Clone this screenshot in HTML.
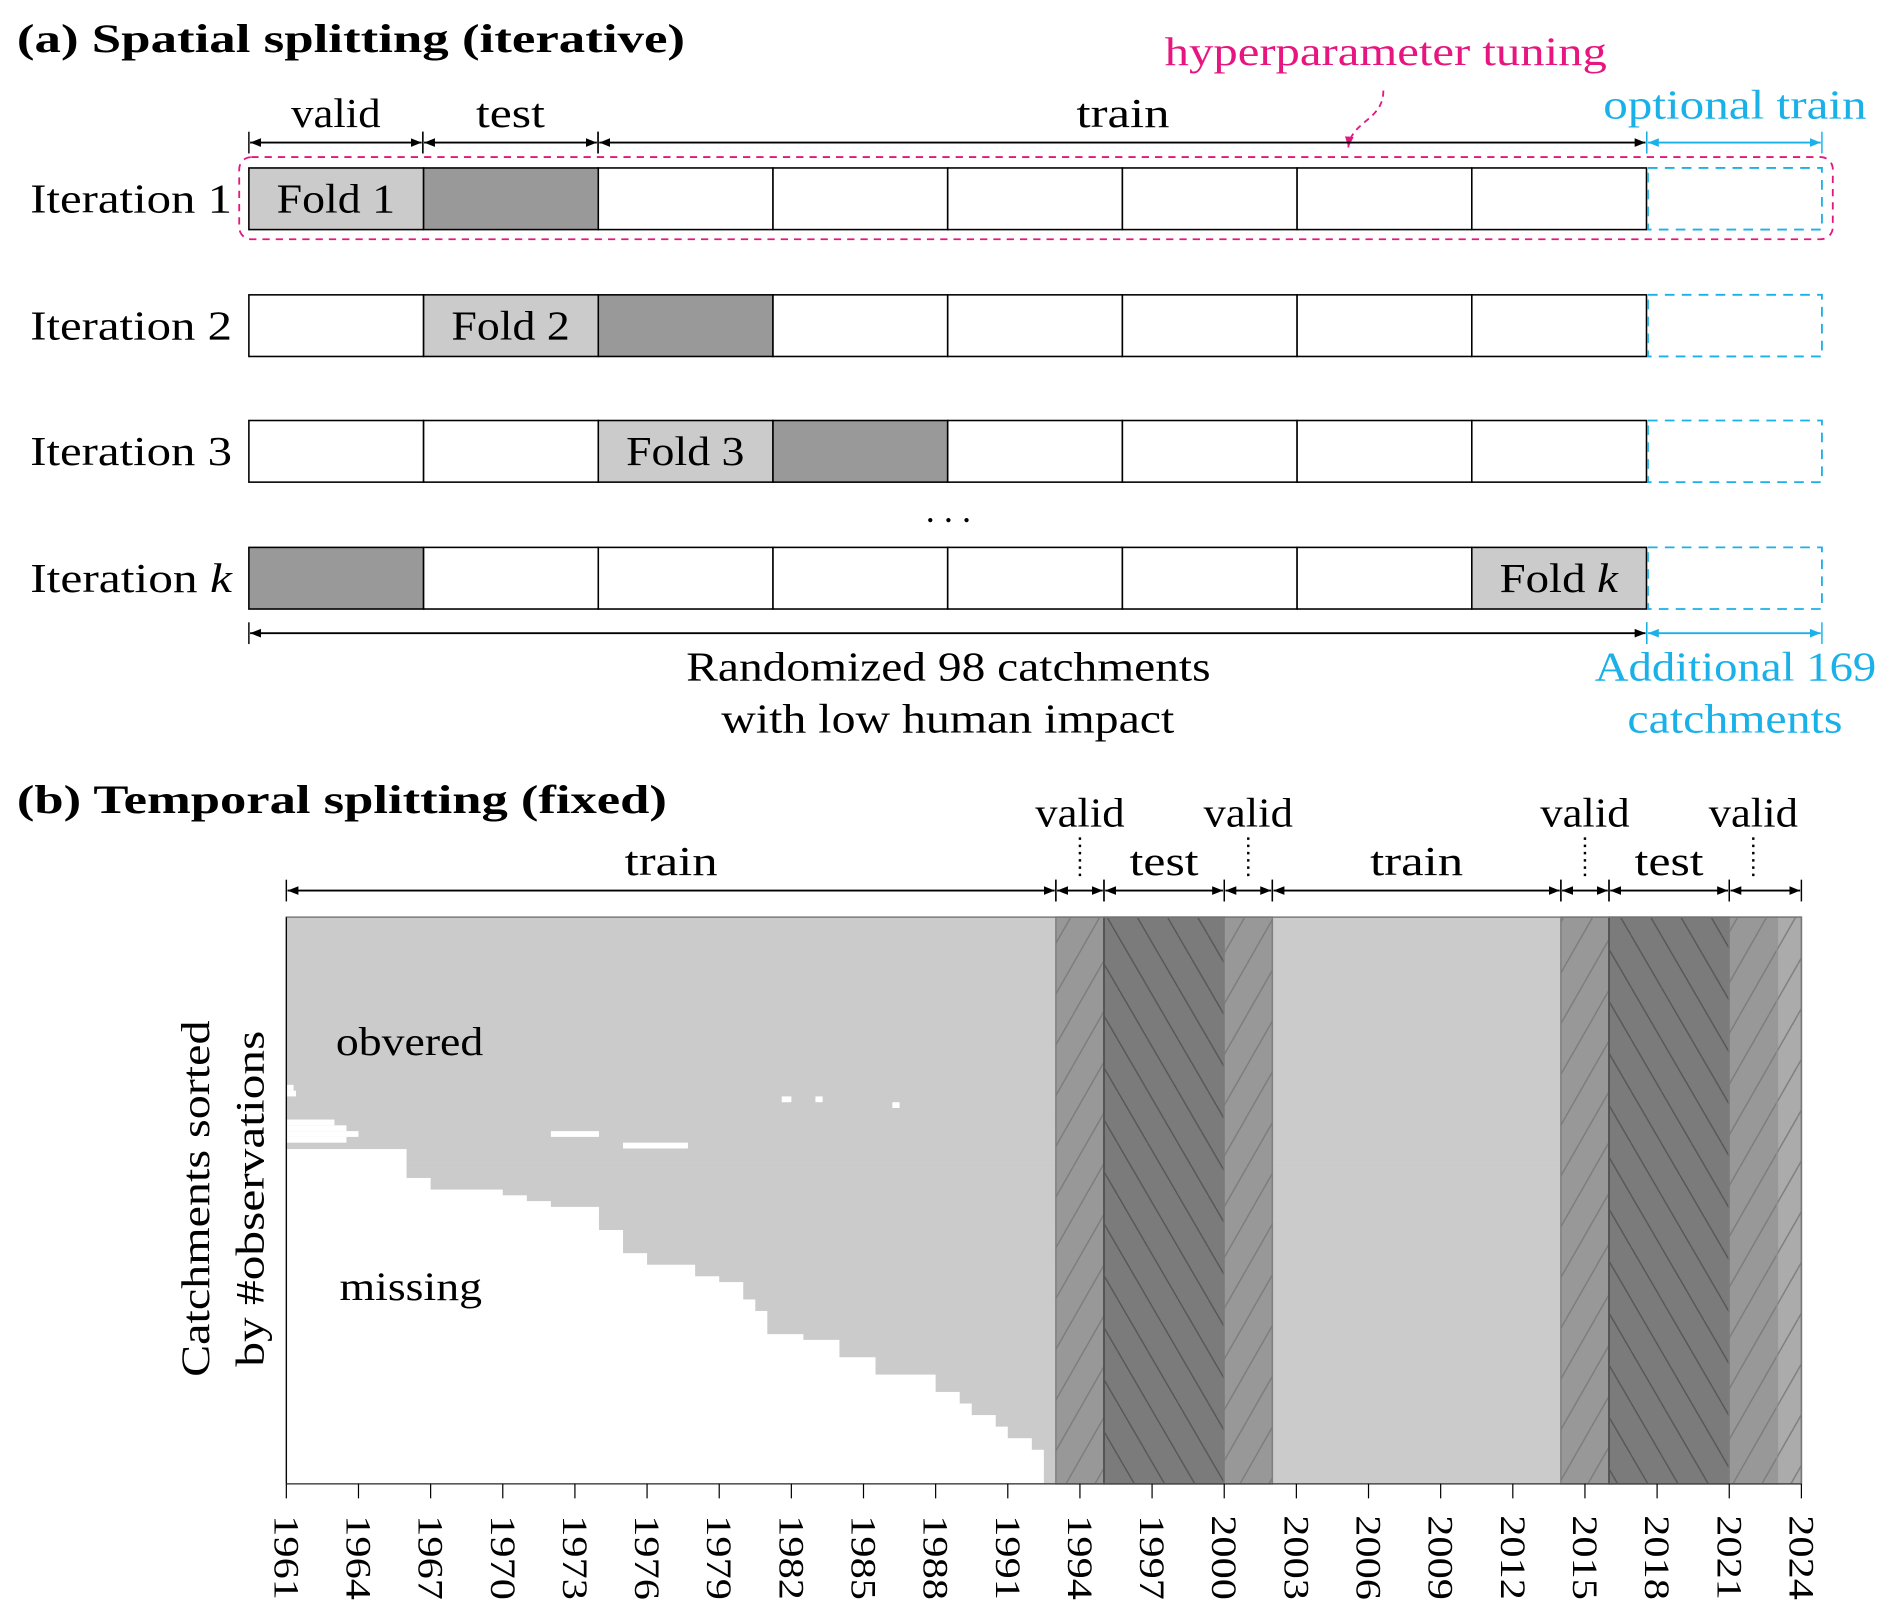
<!DOCTYPE html>
<html><head><meta charset="utf-8"><style>
html,body{margin:0;padding:0;background:#fff;}
svg{display:block;font-family:"Liberation Serif",serif;}
</style></head><body>
<svg id="fig" width="1892" height="1618" viewBox="0 0 1566 1339" preserveAspectRatio="none" xmlns="http://www.w3.org/2000/svg">
<defs>
<marker id="ah" viewBox="0 0 10 10" refX="10" refY="5" markerWidth="9" markerHeight="9" markerUnits="userSpaceOnUse" orient="auto-start-reverse"><path d="M0,1 L10,5 L0,9 Z" fill="#000"/></marker>
<marker id="ahc" viewBox="0 0 10 10" refX="10" refY="5" markerWidth="9" markerHeight="9" markerUnits="userSpaceOnUse" orient="auto-start-reverse"><path d="M0,1 L10,5 L0,9 Z" fill="#1ab0e8"/></marker>
<marker id="ahp" viewBox="0 0 10 10" refX="10" refY="5" markerWidth="9" markerHeight="9" markerUnits="userSpaceOnUse" orient="auto"><path d="M0,1 L10,5 L0,9 Z" fill="#e6157f"/></marker>
<pattern id="hvalid" patternUnits="userSpaceOnUse" width="24" height="42"><path d="M-24,42 L0,0 M0,42 L24,0 M24,42 L48,0" stroke="#7a7a7a" stroke-width="1.1"/></pattern>
<pattern id="htest" patternUnits="userSpaceOnUse" width="25" height="43"><path d="M-25,0 L0,43 M0,0 L25,43 M25,0 L50,43" stroke="#555" stroke-width="1.1"/></pattern>
</defs>

<text x="14" y="43" font-size="33" font-weight="bold" textLength="553" lengthAdjust="spacingAndGlyphs">(a) Spatial splitting (iterative)</text>
<text x="964" y="54" font-size="33" fill="#e6157f" textLength="366" lengthAdjust="spacingAndGlyphs">hyperparameter tuning</text>
<path d="M1145,75 C1145,100 1118,100 1116,122" fill="none" stroke="#e6157f" stroke-width="1.5" stroke-dasharray="5,4" marker-end="url(#ahp)"/>
<g id="spatial"></g>
<text x="785" y="432" font-size="30" text-anchor="middle">. . .</text>
<text x="568" y="563" font-size="34" textLength="434" lengthAdjust="spacingAndGlyphs">Randomized 98 catchments</text>
<text x="597" y="606" font-size="34" textLength="375" lengthAdjust="spacingAndGlyphs">with low human impact</text>
<text x="1320" y="563" font-size="34" fill="#1ab0e8" textLength="233" lengthAdjust="spacingAndGlyphs">Additional 169</text>
<text x="1347" y="606" font-size="34" fill="#1ab0e8" textLength="178" lengthAdjust="spacingAndGlyphs">catchments</text>

<text x="14" y="673" font-size="33" font-weight="bold" textLength="538" lengthAdjust="spacingAndGlyphs">(b) Temporal splitting (fixed)</text>
<g id="temporal"></g>
<text transform="translate(173,992) rotate(-90)" font-size="33" text-anchor="middle" textLength="295" lengthAdjust="spacingAndGlyphs">Catchments sorted</text>
<text transform="translate(218,992) rotate(-90)" font-size="33" text-anchor="middle" textLength="278" lengthAdjust="spacingAndGlyphs">by #observations</text>
<text x="278" y="873" font-size="33" textLength="122" lengthAdjust="spacingAndGlyphs">obvered</text>
<text x="281" y="1076" font-size="33" textLength="118" lengthAdjust="spacingAndGlyphs">missing</text>
</svg>
<script>
const NS="http://www.w3.org/2000/svg";
function mk(parent,tag,attrs){const e=document.createElementNS(NS,tag);for(const k in attrs)e.setAttribute(k,attrs[k]);parent.appendChild(e);return e;}

const iterationLabels=["Iteration 1","Iteration 2","Iteration 3","Iteration k"];
const validFold=[0,1,2,7];
const testFold=[1,2,3,0];
const nFolds=8;
const sp=document.getElementById('spatial');
const X0=206,CW=144.6,RH=51;
const rowTops=[139,244,348,453];
for(let r=0;r<iterationLabels.length;r++){
  const y=rowTops[r];
  const lab=mk(sp,'text',{x:25,y:y+37,'font-size':34,textLength:167,lengthAdjust:"spacingAndGlyphs"});
  
  
  if(r===3){lab.textContent="Iteration ";const t=mk(lab,'tspan',{'font-style':'italic'});t.textContent="k";}else lab.textContent=iterationLabels[r];
  for(let c=0;c<nFolds;c++){
    let fill="#fff";if(c===validFold[r])fill="#cbcbcb";if(c===testFold[r])fill="#999";
    const rc=mk(sp,'rect',{x:X0+c*CW,y:y,width:CW,height:RH,fill:fill,stroke:"#000","stroke-width":1.3});
    
    
    if(c===validFold[r]){
      const ft=mk(sp,'text',{x:X0+c*CW+23,y:y+37,'font-size':34,textLength:98,lengthAdjust:"spacingAndGlyphs"});
      
      
      if(r===3){ft.textContent="Fold ";const t=mk(ft,'tspan',{'font-style':'italic'});t.textContent="k";}else ft.textContent="Fold "+(r+1);
    }
  }
  const ext=mk(sp,'rect',{x:1364,y:y,width:144,height:RH,fill:"none",stroke:"#1ab0e8","stroke-width":1.5,"stroke-dasharray":"8,6"});
  
  
}
const hp=mk(sp,'rect',{x:198,y:130,width:1319,height:68,rx:10,fill:"none",stroke:"#e6157f","stroke-width":1.5,"stroke-dasharray":"6,5"});


function arrow(g,x1,x2,y,col,mark,name){
  const l=mk(g,'line',{x1:x1+1,y1:y,x2:x2-1,y2:y,stroke:col,"stroke-width":1.5,"marker-start":"url(#"+mark+")","marker-end":"url(#"+mark+")"});
  
  
  mk(g,'line',{x1:x1,y1:y-9,x2:x1,y2:y+9,stroke:col,"stroke-width":1.2});
  mk(g,'line',{x1:x2,y1:y-9,x2:x2,y2:y+9,stroke:col,"stroke-width":1.2});
}
arrow(sp,206,350,118,"#000","ah","valid-arrow");
arrow(sp,350,495,118,"#000","ah","test-arrow");
arrow(sp,495,1363,118,"#000","ah","train-arrow");
arrow(sp,1363,1508,118,"#1ab0e8","ahc","optional-train-arrow");
arrow(sp,206,1363,524,"#000","ah","catchments-arrow");
arrow(sp,1363,1508,524,"#1ab0e8","ahc","additional-arrow");
[["valid",241,105,"#000",74],["test",394,105,"#000",57],["train",891,105,"#000",77],["optional train",1327,98,"#1ab0e8",218]].forEach(a=>{
  const t=mk(sp,'text',{x:a[1],y:a[2],'font-size':34,fill:a[3],textLength:a[4],lengthAdjust:"spacingAndGlyphs"});
  t.textContent=a[0];
  
  
});

const yearStart=1961, yearEnd=2024;
const tickYears=[1961,1964,1967,1970,1973,1976,1979,1982,1985,1988,1991,1994,1997,2000,2003,2006,2009,2012,2015,2018,2021,2024];
const segNames=["train","valid","test","valid","train","valid","test","valid","extra"];
const segStart=[1961,1993,1995,2000,2002,2014,2016,2021,2023];
const segEnd=[1993,1995,2000,2002,2014,2016,2021,2023,2024];
const nRows=98;
const firstYear=[
1961,1961,1961,1961,1961,1961,1961,1961,1961,1961,
1961,1961,1961,1961,1961,1961,1961,1961,1961,1961,
1961,1961,1961,1961,1961,1961,1961,1961,1961,1961,
1961,1961,1961,1961,1961,1961,1961,1961,1961,1961,
1966,1966,1966,1966,1966,1967,1967,1970,1971,1972,
1974,1974,1974,1974,1975,1975,1975,1975,1976,1976,
1978,1978,1979,1980,1980,1980,1980.5,1980.5,1981,1981,
1981,1981,1982.5,1984,1984,1984,1985.5,1985.5,1985.5,1988,
1988,1988,1989,1989,1989.5,1989.5,1990.5,1990.5,1991,1991,
1992,1992,1992.5,1992.5,1992.5,1992.5,1992.5,1992.5];
const gapRow=[29,30,31,31,32,35,36,37,37,38,39];
const gapStart=[1961,1961,1981.6,1983,1986.2,1961,1961,1961,1972,1961,1975];
const gapEnd=[1961.3,1961.4,1982,1983.3,1986.5,1963,1963.5,1964,1974,1963.5,1977.7];

const tp=document.getElementById('temporal');
const PX0=237,PX1=1491,PY0=759,PY1=1228;
const xs=yr=>PX0+(yr-yearStart)/(yearEnd-yearStart)*(PX1-PX0);
const rowH=(PY1-PY0)/nRows;
const ys=i=>PY0+i*rowH;

const bg=mk(tp,'rect',{x:PX0,y:PY0,width:PX1-PX0,height:PY1-PY0,fill:"#fff"});


for(let i=0;i<nRows;i++){
  const r=mk(tp,'rect',{x:xs(firstYear[i]),y:ys(i),width:xs(yearEnd)-xs(firstYear[i]),height:rowH+0.5,fill:"#cbcbcb"});
  
  
}
for(let g=0;g<gapRow.length;g++){
  const r=mk(tp,'rect',{x:xs(gapStart[g]),y:ys(gapRow[g]),width:xs(gapEnd[g])-xs(gapStart[g]),height:rowH,fill:"#fff"});
  
  
}
const segFill={valid:"#989898",test:"#7b7b7b",extra:"#ababab"};
const segPat={valid:"hvalid",test:"htest",extra:"hvalid"};
const segStroke={valid:"#808080",test:"#4a4a4a",extra:"#999"};
for(let s=0;s<segNames.length;s++){
  const n=segNames[s];if(n==="train")continue;
  const x=xs(segStart[s]),w=xs(segEnd[s])-xs(segStart[s]);
  const r=mk(tp,'rect',{x:x,y:PY0,width:w,height:PY1-PY0,fill:segFill[n],stroke:segStroke[n],"stroke-width":1.3});
  
  
  mk(tp,'rect',{x:x,y:PY0,width:w,height:PY1-PY0,fill:"url(#"+segPat[n]+")"});
}
const fr=mk(tp,'rect',{x:PX0,y:PY0,width:PX1-PX0,height:PY1-PY0,fill:"none",stroke:"#777","stroke-width":1.2});


mk(tp,'line',{x1:PX0,y1:PY0,x2:PX0,y2:PY1,stroke:"#000","stroke-width":1});
mk(tp,'line',{x1:PX0,y1:PY1,x2:PX1,y2:PY1,stroke:"#444","stroke-width":1});
tickYears.forEach(yr=>{
  const x=xs(yr);
  const t=mk(tp,'line',{x1:x,y1:PY1,x2:x,y2:PY1+12,stroke:"#000","stroke-width":1});
  
  
  const lb=mk(tp,'text',{x:x,y:1254,'font-size':30,'dominant-baseline':'central',textLength:70,lengthAdjust:"spacingAndGlyphs",transform:"rotate(90,"+x+",1254)"});
  lb.textContent=yr;
  
  
});
for(let s=0;s<segNames.length;s++){
  const n=segNames[s];
  if(n==="extra")continue;
  const x1=xs(segStart[s]),x2=(s===7?xs(2024):xs(segEnd[s]));
  arrow(tp,x1,x2,737,"#000","ah",n+"-period-arrow");
  const mid=(x1+x2)/2;
  if(n==="valid"){
    const vx=(xs(segStart[s])+xs(segEnd[s]))/2;
    mk(tp,'line',{x1:vx,y1:693,x2:vx,y2:727,stroke:"#000","stroke-width":2,"stroke-dasharray":"2,4"});
    const t=mk(tp,'text',{x:vx,y:684,'font-size':34,'text-anchor':'middle',textLength:74,lengthAdjust:"spacingAndGlyphs"});t.textContent="valid";
    
    
  }else{
    const t=mk(tp,'text',{x:mid,y:724,'font-size':34,'text-anchor':'middle',textLength:(n==="train"?77:57),lengthAdjust:"spacingAndGlyphs"});t.textContent=n;
    
    
  }
}
</script>
</body></html>
